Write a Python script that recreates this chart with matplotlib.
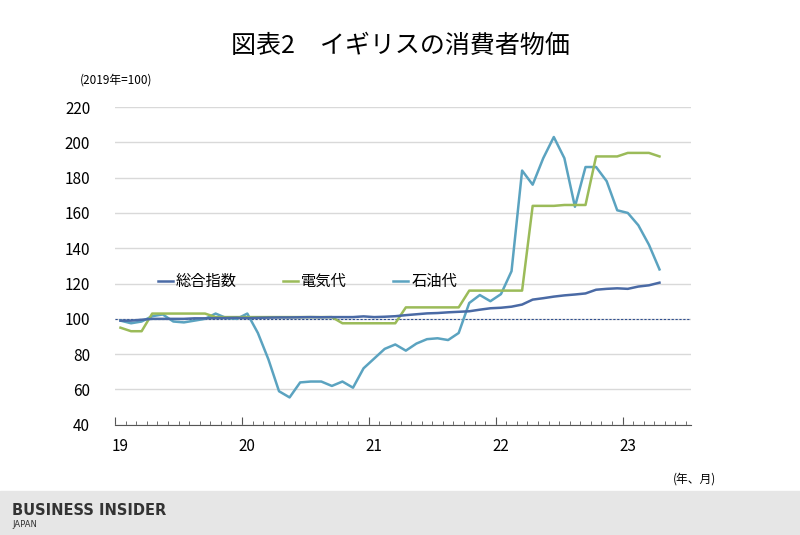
import numpy as np
import matplotlib.pyplot as plt
from matplotlib.patches import Rectangle

plt.rcParams["font.family"] = "Noto Sans CJK JP"

# monthly, Jan 2019 - Apr 2023
cpi = [99, 99, 99.5, 100, 100, 100, 100, 100.3, 100.3, 100.4, 100.5, 100.6,
       100.4, 100.6, 100.7, 100.8, 100.8, 100.9, 101, 100.9, 101, 101, 101, 101.4,
       101, 101.2, 101.5, 102.1, 102.6, 103.1, 103.3, 103.7, 104, 104.3, 105.2, 106,
       106.3, 106.9, 108.1, 110.9, 111.7, 112.6, 113.3, 113.8, 114.4, 116.5, 117, 117.3,
       117, 118.3, 119, 120.5]
electricity = [95, 93, 93] + [103] * 6 + [101] * 12 + [97.5] * 6 + [106.5] * 6 \
    + [116] * 6 + [164, 164, 164, 164.5, 164.5, 164.5] + [192] * 3 + [194] * 3 + [192]
oil = [99, 97.5, 98.5, 101.5, 102.5, 98.5, 98, 99, 100, 103, 100.5, 100,
       103, 92, 77, 59, 55.5, 64, 64.5, 64.5, 62, 64.5, 61, 72,
       77.5, 83, 85.5, 82, 86, 88.5, 89, 88, 92, 109, 113.5, 110,
       114, 127, 184, 176, 191, 203, 191, 163.5, 186, 186, 178, 161.5,
       160, 153, 142, 128]
year_labels = ["19", "20", "21", "22", "23"]
y_ticks = [40, 60, 80, 100, 120, 140, 160, 180, 200, 220]

fig = plt.figure(figsize=(8, 5.35), dpi=100)
ax = fig.add_axes([0.144, 0.206, 0.72, 0.594])

x = np.arange(len(cpi))
ax.axhline(100, color="#2f4f8f", lw=0.8, ls=(0, (2, 1.5)), zorder=1)
ax.plot(x, cpi, color="#4a6aa5", lw=1.8, label="総合指数", zorder=4)
ax.plot(x, electricity, color="#9bbb59", lw=1.8, label="電気代", zorder=3)
ax.plot(x, oil, color="#5ba3c0", lw=1.8, label="石油代", zorder=2)

ax.set_xlim(-0.5, 54)
ax.set_ylim(40, 220)
ax.set_yticks(y_ticks)
ax.tick_params(axis="y", length=0, labelsize=11, pad=18)
ax.grid(axis="y", color="#d9d9d9", lw=1)
ax.set_axisbelow(True)
for s in ["top", "right", "left"]:
    ax.spines[s].set_visible(False)
ax.spines["bottom"].set_color("#555555")

ax.set_xticks(np.arange(-0.5, 54, 12))
ax.set_xticks(np.arange(-0.5, 54, 1), minor=True)
ax.set_xticklabels([])
ax.tick_params(axis="x", which="major", direction="in", length=6, color="#555555")
ax.tick_params(axis="x", which="minor", direction="in", length=3, color="#555555")
for i, lab in enumerate(year_labels):
    ax.text(i * 12, -0.04, lab, transform=ax.get_xaxis_transform(),
            ha="center", va="top", fontsize=11)

ax.legend(loc="upper left", bbox_to_anchor=(0.05, 0.52), ncol=3, frameon=False,
          fontsize=11, handlelength=1, handletextpad=0.2, columnspacing=3)

fig.text(0.5, 0.915, "図表2　イギリスの消費者物価", ha="center", va="center", fontsize=18)
fig.text(0.1, 0.85, "(2019年=100)", ha="left", va="center", fontsize=8.5)
fig.text(0.895, 0.105, "(年、月)", ha="right", va="center", fontsize=8.5)

fig.patches.append(Rectangle((0, 0), 1, 0.083, transform=fig.transFigure,
                             color="#e6e6e6", zorder=0))
fig.text(0.015, 0.045, "BUSINESS INSIDER", fontsize=10.5, fontweight="bold",
         color="#333333", family="DejaVu Sans", va="center")
fig.text(0.015, 0.02, "JAPAN", fontsize=6, color="#333333", family="DejaVu Sans", va="center")

fig.savefig("out.png")
